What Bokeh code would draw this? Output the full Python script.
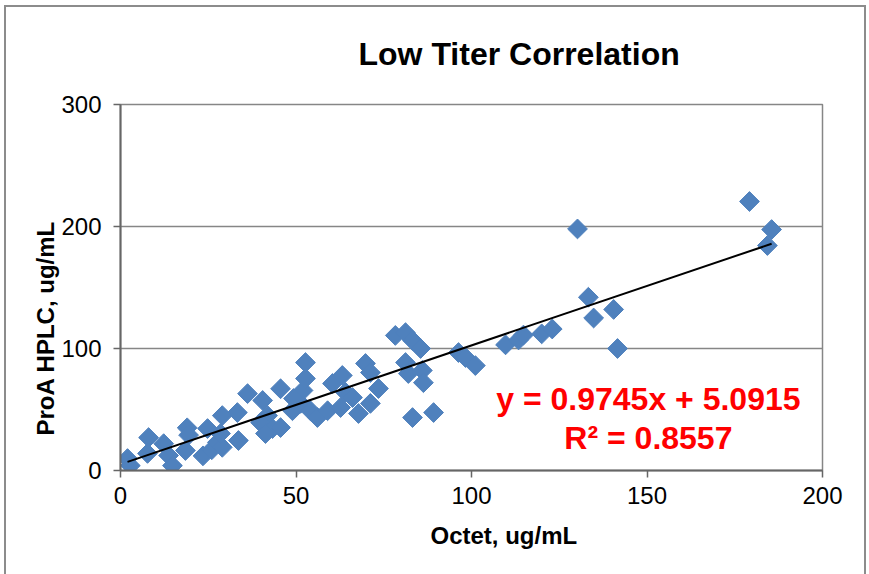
import numpy as np
from bokeh.plotting import figure
from bokeh.models import Range1d, Label, FixedTicker, Title
from bokeh.embed import file_html
from bokeh.resources import INLINE

# Octet vs ProA HPLC titers (ug/mL)
octet = [2.0, 2.8, 8.0, 7.7, 12.3, 13.7, 14.8, 19.0, 19.4, 18.5, 24.8, 23.5, 26.0,
         27.6, 29.0, 36.2, 45.6, 29.0, 33.3, 40.5, 41.9, 39.9, 43.3, 41.3, 45.6,
         33.6, 28.5, 49.0, 51.3, 52.0, 52.7,
         52.7, 49.3, 54.1, 56.1, 59.0, 60.4, 63.2, 64.1, 62.7, 66.1, 69.8, 71.2,
         73.5, 71.2, 67.8,
         78.3, 81.2, 83.2, 85.5, 81.2, 82.0, 86.0, 86.3, 83.2, 89.2, 96.3, 98.3, 101.1,
         109.7, 113.4, 114.8, 120.0, 123.0, 130.2, 133.3, 134.8, 140.5, 141.6,
         179.2, 185.5, 184.3]
proa_hplc = [9.8, 4.0, 27.0, 14.0, 22.0, 12.3, 4.0, 35.0, 29.0, 16.4, 34.4, 12.0, 17.0,
             23.0, 19.0, 63.0, 67.0, 45.0, 47.5, 57.4, 45.0, 39.3, 34.4, 30.3, 35.2,
             24.6, 30.3, 49.0, 55.0, 65.6, 75.4,
             88.5, 59.0, 49.0, 43.4, 49.0, 71.3, 77.9, 64.0, 51.6, 59.8, 87.7, 80.3,
             67.2, 55.0, 46.7,
             110.7, 113.0, 106.6, 100.0, 88.5, 79.5, 82.0, 72.0, 43.4, 47.5, 96.7, 92.6, 86.0,
             103.0, 107.0, 111.0, 112.0, 116.0, 198.0, 142.0, 125.0, 132.0, 100.0,
             220.5, 197.5, 184.4]

# Linear fit reported on the chart
slope = 0.9745
intercept = 5.0915
r_squared = 0.8557

x_ticks = [0, 50, 100, 150, 200]
y_ticks = [0, 100, 200, 300]

FONT = "Liberation Sans"
GRID = "#868686"
AXIS = "#666666"
BLUE = "#4F81BD"
EDGE = "#8c8c8c"

p = figure(width=869, height=574, x_range=Range1d(0, 200), y_range=Range1d(0, 300),
           output_backend="svg", toolbar_location=None,
           min_border_left=120, min_border_right=47,
           min_border_top=104, min_border_bottom=104)
p.background_fill_color = "white"
p.border_fill_color = None
p.outline_line_color = GRID
p.outline_line_width = 1.5

# chart-area border (left, top and right edges)
p.styles = {"box-shadow": (f"inset 4px 5px 0 0 #ffffff, inset -3px 0 0 0 #ffffff, "
                           f"inset 6px 7px 0 0 {EDGE}, inset -5px 0 0 0 {EDGE}")}

p.title.text = "Low Titer Correlation"
p.title.align = "left"
p.title.offset = 238
p.title.standoff = 65
p.title.text_font = FONT
p.title.text_font_size = "32px"
p.title.text_font_style = "bold"
p.title.text_color = "black"

p.xgrid.visible = False
p.ygrid.ticker = FixedTicker(ticks=y_ticks)
p.ygrid.grid_line_color = GRID
p.ygrid.grid_line_width = 1.5

p.xaxis.ticker = FixedTicker(ticks=x_ticks)
p.yaxis.ticker = FixedTicker(ticks=y_ticks)
for ax in (p.xaxis[0], p.yaxis[0]):
    ax.axis_line_color = AXIS
    ax.axis_line_width = 2
    ax.major_tick_line_color = AXIS
    ax.major_tick_line_width = 1.5
    ax.major_tick_in = 0
    ax.major_tick_out = 7
    ax.minor_tick_line_color = None
    ax.major_label_text_font = FONT
    ax.major_label_text_font_size = "24px"
    ax.major_label_text_color = "black"
p.xaxis.major_label_standoff = 9
p.yaxis.major_label_standoff = 12

# axis titles
p.add_layout(Title(text="Octet, ug/mL", align="left", offset=310, standoff=26,
                   text_font=FONT, text_font_size="24px", text_font_style="bold",
                   text_color="black"), "below")
p.add_layout(Title(text="ProA HPLC, ug/mL", align="left", offset=35, standoff=0,
                   text_font=FONT, text_font_size="24px", text_font_style="bold",
                   text_color="black"), "left")

# data points as diamonds
p.scatter(octet, proa_hplc, marker="square", size=14, angle=np.pi / 4,
          fill_color=BLUE, line_color=BLUE, line_width=1)

# trend line over the observed range
x_fit = np.array([min(octet), max(octet)])
p.line(x_fit, slope * x_fit + intercept, line_color="black", line_width=2)

# fit equation
p.add_layout(Label(x=150.4, y=59, text=f"y = {slope}x + {intercept}", text_align="center",
                   text_baseline="middle", text_font=FONT, text_font_size="32px",
                   text_font_style="bold", text_color="#FF0000"))
p.add_layout(Label(x=150.4, y=27, text=f"R\u00b2 = {r_squared}", text_align="center",
                   text_baseline="middle", text_font=FONT, text_font_size="32px",
                   text_font_style="bold", text_color="#FF0000"))

open("out.html", "w").write(file_html(p, INLINE))
